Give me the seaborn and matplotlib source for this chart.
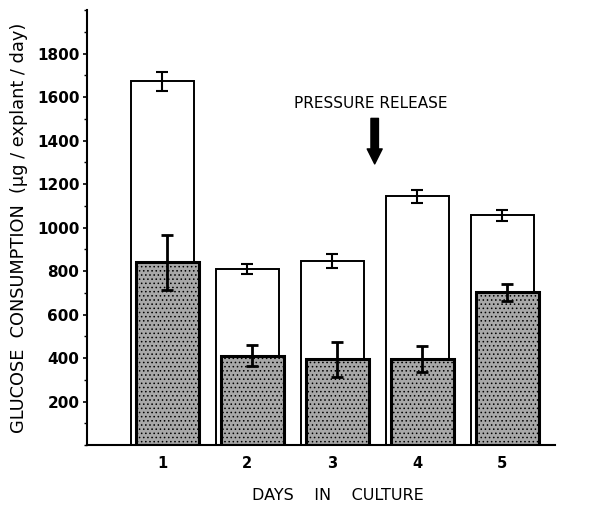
import matplotlib
matplotlib.use("Agg")
import matplotlib.pyplot as plt
import seaborn as sns
import numpy as np
import pandas as pd
from matplotlib.ticker import MultipleLocator

days = ["1", "2", "3", "4", "5"]
day_num = [1, 2, 3, 4, 5]
total_vals = [1672, 809, 847, 1143, 1056]
total_err = [44, 23, 31, 29, 25]
shaded_vals = [840, 410, 394, 394, 702]
shaded_err = [128, 48, 80, 60, 40]
y_ticks = [200, 400, 600, 800, 1000, 1200, 1400, 1600, 1800]

sns.set_theme(style="white")
plt.rcParams['font.family'] = ['DejaVu Sans']
plt.rcParams['hatch.linewidth'] = 0.6
plt.rcParams['text.color'] = 'black'
plt.rcParams['axes.labelcolor'] = 'black'
plt.rcParams['xtick.color'] = 'black'
plt.rcParams['ytick.color'] = 'black'

fig = plt.figure(figsize=(5.93, 5.08), dpi=100)
ax = fig.add_axes([0.1467, 0.124, 0.936 - 0.1467, 0.980 - 0.124])

offset = 0.06
df_tot = pd.DataFrame({"day": day_num, "val": total_vals})
df_sh = pd.DataFrame({"day": [d + offset for d in day_num], "val": shaded_vals})

sns.barplot(data=df_tot, x="day", y="val", native_scale=True, width=0.74,
            color="white", edgecolor="black", linewidth=1.4, errorbar=None, ax=ax)
n_tot = len(ax.patches)
sns.barplot(data=df_sh, x="day", y="val", native_scale=True, width=0.74,
            color="#a8a8a8", edgecolor="black", linewidth=2.2, errorbar=None, ax=ax)
for p in ax.patches[n_tot:]:
    p.set_hatch("....")
    p.set_facecolor("#a8a8a8")
    p.set_edgecolor("black")

ax.errorbar(day_num, total_vals, yerr=total_err, fmt="none", ecolor="black",
            elinewidth=1.5, capsize=4, capthick=1.5, zorder=5)
ax.errorbar([d + offset for d in day_num], shaded_vals, yerr=shaded_err, fmt="none",
            ecolor="black", elinewidth=2.0, capsize=4, capthick=2.0, zorder=5)

ax.set_xlim(0.118, 5.62)
ax.set_ylim(0, 2000)
ax.set_xticks(day_num)
ax.set_xticklabels(days, fontsize=10.5, fontweight="bold")
ax.set_yticks(y_ticks)
ax.set_yticklabels([str(v) for v in y_ticks], fontsize=11, fontweight="bold")
ax.yaxis.set_minor_locator(MultipleLocator(100))
ax.tick_params(axis="y", which="major", direction="out", length=3, width=1.2, left=True, pad=2.5)
ax.tick_params(axis="y", which="minor", direction="out", length=2.5, width=1.0, left=True)
ax.tick_params(axis="x", which="both", length=0, pad=8)

for s in ["top", "right"]:
    ax.spines[s].set_visible(False)
for s in ["left", "bottom"]:
    ax.spines[s].set_linewidth(1.5)
    ax.spines[s].set_color("black")

ax.set_xlabel("DAYS    IN    CULTURE", fontsize=11.5)
ax.xaxis.set_label_coords(0.536, -0.100)
ax.set_ylabel("GLUCOSE  CONSUMPTION  (\u03bcg / explant / day)", fontsize=12.8)
ax.yaxis.set_label_coords(-0.125, 0.5)

ax.text(3.45, 1572, "PRESSURE RELEASE", ha="center", va="center", fontsize=11)
ax.annotate("", xy=(3.5, 1280), xytext=(3.5, 1515),
            arrowprops=dict(arrowstyle="simple,head_width=0.9,head_length=0.9,tail_width=0.45",
                            color="black"))

fig.savefig("out.png", dpi=100)
